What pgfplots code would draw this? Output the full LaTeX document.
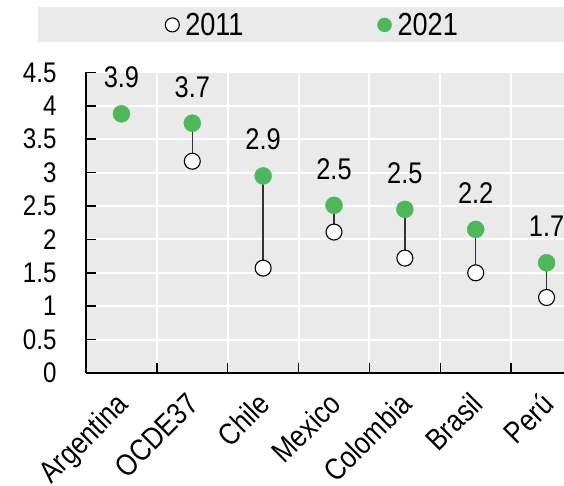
\documentclass[border=0pt]{standalone}
\usepackage{pgfplots}
\pgfplotsset{compat=1.18}
\usepackage{fontspec}
\setmainfont[FakeStretch=0.85]{Liberation Sans}
\newfontfamily\legfont[FakeStretch=0.85]{Liberation Sans}
\definecolor{bggray}{RGB}{234,234,234}
\definecolor{dotgreen}{RGB}{77,184,90}
\begin{document}
\begin{tikzpicture}
\useasboundingbox (0,0) rectangle (564bp,486bp);
\fill[bggray] (38bp,444bp) rectangle (564bp,479bp);
\begin{axis}[
 at={(86bp,113bp)},anchor=south west,
 scale only axis,width=478bp,height=300.6bp,
 xmin=-0.5,xmax=6.246,ymin=0,ymax=4.5,
 clip=false,
 axis background/.style={fill=bggray},
 axis x line*=bottom,axis y line*=left,
 axis line style={black,line width=2bp},
 tick align=inside,
 major tick length=10bp,
 tick style={black,line width=1.5bp},
 /pgf/number format/assume math mode=true,
 ytick={0,0.5,1,1.5,2,2.5,3,3.5,4,4.5},
 yticklabel style={font=\fontsize{28.5}{28.5}\selectfont,xshift=-26bp},
 ymajorgrids,xmajorgrids,
 grid style={white,line width=2bp},
 xtick={0.5,1.5,2.5,3.5,4.5,5.5},xticklabels={},
 extra x ticks={0,1,2,3,4,5,6},
 extra x tick labels={Argentina,OCDE37,Chile,Mexico,Colombia,Brasil,Perú},
 extra x tick style={grid=none,tick style={draw=none},
   ticklabel style={xshift=-7bp,yshift=-13bp,rotate=45,anchor=north east,
   font=\fontsize{30.5}{30.5}\selectfont}},
 legend style={at={(0.474,1.158)},anchor=center,draw=none,fill=none,
   font=\legfont\fontsize{32}{32}\selectfont,legend columns=2,
   /tikz/every even column/.append style={column sep=132bp}},
 legend image code/.code={\draw[#1,mark size=7bp] plot coordinates {(0bp,0bp)};
   \path[draw=none,fill=none] (-7bp,0bp) -- (11bp,0bp);},
 nodes near coords style={anchor=base,yshift=26bp,inner sep=0pt,
   font=\fontsize{30}{30}\selectfont},
]
% stems between 2011 and 2021
\addplot[forget plot,draw=black!80,line width=1.3bp,unbounded coords=jump] coordinates {
 (1,3.17) (1,3.74) (1,nan)
 (2,1.57) (2,2.95) (2,nan)
 (3,2.11) (3,2.51) (3,nan)
 (4,1.72) (4,2.45) (4,nan)
 (5,1.50) (5,2.15) (5,nan)
 (6,1.13) (6,1.65)
};
\addplot[only marks,mark=*,mark size=8bp,draw=black,fill=white,line width=1.1bp] coordinates {
 (1,3.17) (2,1.57) (3,2.11) (4,1.72) (5,1.50) (6,1.13)
};
\addlegendentry{2011}
\addplot[only marks,mark=*,mark size=8.5bp,draw=dotgreen,fill=dotgreen,
  nodes near coords,point meta=explicit symbolic] coordinates {
 (0,3.88) [3.9] (1,3.74) [3.7] (2,2.95) [2.9] (3,2.51) [2.5]
 (4,2.45) [2.5] (5,2.15) [2.2] (6,1.65) [1.7]
};
\addlegendentry{2021}
\end{axis}
\end{tikzpicture}
\end{document}
